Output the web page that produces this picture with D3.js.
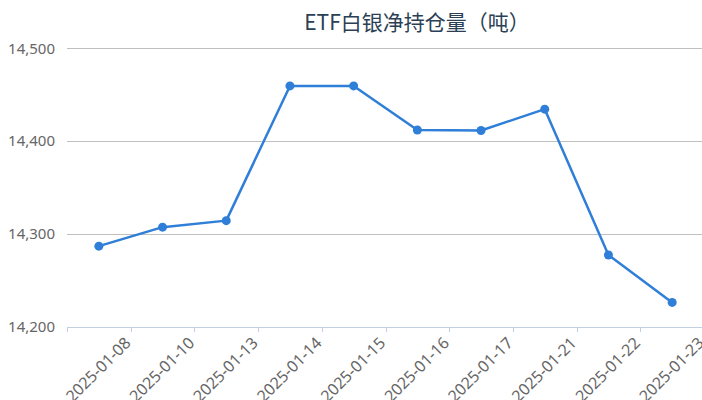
<!DOCTYPE html>
<html>
<head>
<meta charset="utf-8">
<script src="https://cdn.jsdelivr.net/npm/d3@7"></script>
<style>
  body { margin: 0; background: #fff; }
  svg { display: block; }
  text { font-family: "Noto Sans", "Noto Sans CJK SC", sans-serif; }
</style>
</head>
<body>
<div id="chart"></div>
<script>
// ETF silver net holdings (tonnes)
const dates = ["2025-01-08", "2025-01-10", "2025-01-13", "2025-01-14", "2025-01-15",
               "2025-01-16", "2025-01-17", "2025-01-21", "2025-01-22", "2025-01-23"];
const holdings = [14287, 14307.5, 14314.5, 14459.5, 14459.5, 14412, 14411.5, 14434.5, 14277.5, 14226.5];
const yTicks = [14200, 14300, 14400, 14500];
const title = "ETF白银净持仓量（吨）";

const width = 702, height = 400;
const plotLeft = 67, plotRight = 704, plotTop = 48.3, plotBottom = 327;

const svg = d3.select("#chart").append("svg")
    .attr("width", width)
    .attr("height", height);

const x = d3.scaleBand()
    .domain(d3.range(dates.length))
    .range([plotLeft, plotRight]);

const y = d3.scaleLinear()
    .domain([14200, 14500])
    .range([plotBottom, plotTop]);

// title
svg.append("text")
    .attr("x", 417)
    .attr("y", 30)
    .attr("text-anchor", "middle")
    .attr("fill", "#2b3f55")
    .style("font-family", "'Noto Sans CJK SC', sans-serif")
    .style("font-size", "21px")
    .text(title);

// grid lines
svg.append("g")
    .selectAll("line")
    .data(yTicks.filter(d => d !== 14200))
    .enter().append("line")
    .attr("x1", plotLeft)
    .attr("x2", width)
    .attr("y1", d => Math.round(y(d)) + 0.5)
    .attr("y2", d => Math.round(y(d)) + 0.5)
    .attr("stroke", "#c0c0c0")
    .attr("stroke-width", 1);

// y labels
const fmt = d3.format(",");
svg.append("g")
    .selectAll("text")
    .data(yTicks)
    .enter().append("text")
    .attr("x", 55)
    .attr("y", d => y(d))
    .attr("dy", "0.35em")
    .attr("text-anchor", "end")
    .attr("fill", "#666")
    .style("font-size", "15px")
    .text(d => fmt(d));

// x axis line and ticks at category boundaries
svg.append("line")
    .attr("x1", plotLeft)
    .attr("x2", width)
    .attr("y1", plotBottom + 0.5)
    .attr("y2", plotBottom + 0.5)
    .attr("stroke", "#c0d0e0");

const bounds = d3.range(dates.length + 1).map(i => plotLeft + i * x.bandwidth());
svg.append("g")
    .selectAll("line")
    .data(bounds)
    .enter().append("line")
    .attr("x1", d => Math.round(d) + 0.5)
    .attr("x2", d => Math.round(d) + 0.5)
    .attr("y1", plotBottom)
    .attr("y2", plotBottom + 5)
    .attr("stroke", "#c0d0e0");

// x labels, rotated, ending at the right boundary of each category
svg.append("g")
    .selectAll("text")
    .data(dates)
    .enter().append("text")
    .attr("transform", (d, i) => `translate(${x(i) + x.bandwidth() + 1},344) rotate(-45)`)
    .attr("text-anchor", "end")
    .attr("fill", "#666")
    .style("font-size", "16px")
    .text(d => d);

// line
const line = d3.line()
    .x((d, i) => x(i) + x.bandwidth() / 2)
    .y(d => y(d));

svg.append("path")
    .datum(holdings)
    .attr("d", line)
    .attr("fill", "none")
    .attr("stroke", "#2f7ed8")
    .attr("stroke-width", 2.5)
    .attr("stroke-linejoin", "round");

svg.append("g")
    .selectAll("circle")
    .data(holdings)
    .enter().append("circle")
    .attr("cx", (d, i) => x(i) + x.bandwidth() / 2)
    .attr("cy", d => y(d))
    .attr("r", 4.5)
    .attr("fill", "#2f7ed8");
</script>
</body>
</html>
